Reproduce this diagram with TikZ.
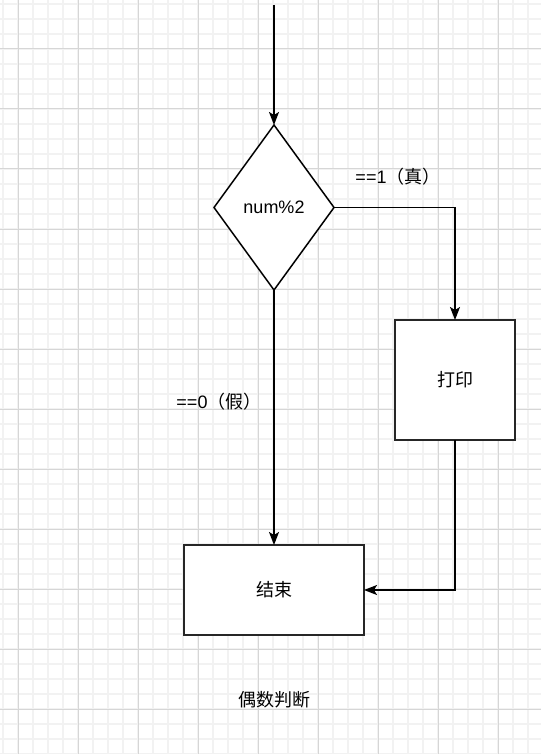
\documentclass[tikz,border=0pt]{standalone}
\usepackage{fontspec}
\setmainfont{Liberation Sans}
\newfontfamily\cjk{Noto Sans CJK SC}
\usetikzlibrary{shapes.geometric,arrows.meta}
\definecolor{minorc}{HTML}{F2F2F2}
\definecolor{majorc}{HTML}{D6D6D6}
\tikzset{
  minorgrid/.style={draw=minorc, line width=1.5pt},
  majorgrid/.style={draw=majorc, line width=1pt},
  decision/.style={diamond, draw=black, fill=white, line width=1.5pt, inner sep=0pt, outer sep=0pt, minimum width=120pt, minimum height=165pt, font=\fontsize{18}{20}\selectfont},
  procbox/.style={rectangle, draw=black!85, fill=white, line width=1.5pt, inner sep=0pt, outer sep=0pt, font=\fontsize{18}{20}\selectfont},
  lbl/.style={inner sep=0pt, font=\fontsize{18}{20}\selectfont},
  arr/.style={draw=black, line width=1.5pt, -{Stealth[length=13pt, width=10pt, inset=3pt]}}
}
\begin{document}
\begin{tikzpicture}[x=1pt, y=-1pt]
\useasboundingbox (0,0) rectangle (541,754);
\fill[white] (0,0) rectangle (541,754);
\foreach \x in {3,18,...,533} \draw[minorgrid] (\x,0) -- (\x,754);
\foreach \y in {4,19,...,754} \draw[minorgrid] (0,\y) -- (541,\y);
\foreach \x in {18,78,...,498} \draw[majorgrid] (\x,0) -- (\x,754);
\foreach \y in {49,109,...,709} \draw[majorgrid] (0,\y) -- (541,\y);

\coordinate (start) at (274,5);
\node[decision] (dec) at (274,207.5) {num\%2};
\node[procbox, minimum width=120pt, minimum height=120pt] (print) at (455,380) {\cjk 打印};
\node[procbox, minimum width=180pt, minimum height=90pt] (end) at (274,590) {\cjk 结束};
\node[lbl] (t1) at (398,177) {==1\cjk（真）};
\node[lbl] (t0) at (219,402) {==0\cjk（假）};
\node[lbl] (title) at (274,700) {\cjk 偶数判断};

\draw[arr] (start) -- (dec.north);
\draw[arr] (dec.east) -| (print.north);
\draw[arr] (dec.south) -- (end.north);
\draw[arr] (print.south) |- (end.east);
\end{tikzpicture}
\end{document}
